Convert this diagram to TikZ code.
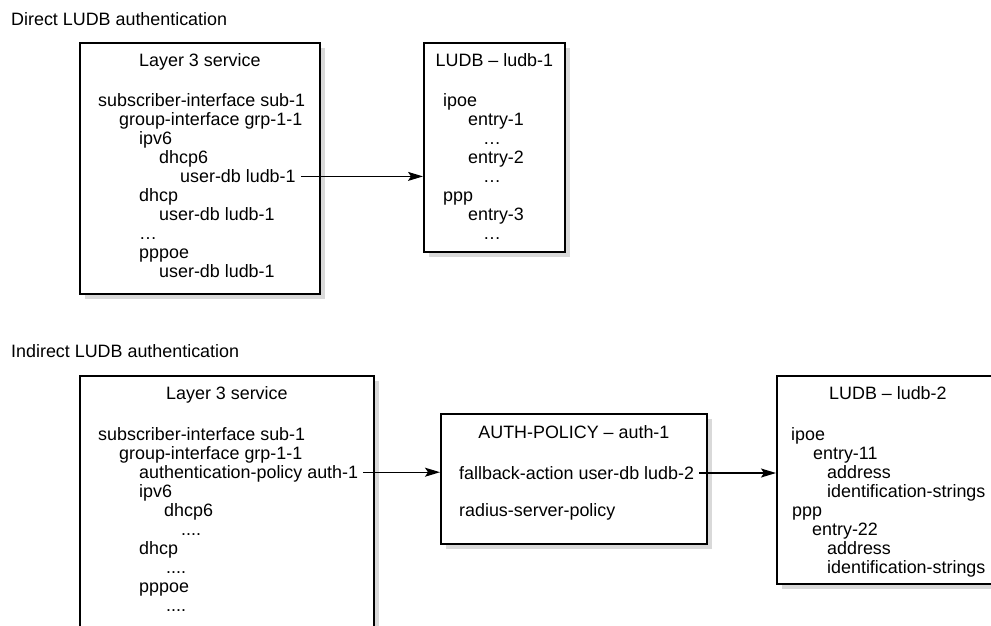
\documentclass[tikz,border=0pt]{standalone}
\usepackage{fontspec}
\setmainfont{Liberation Sans}
\usetikzlibrary{arrows.meta,shadows}

\newcommand\fourdots{....}

\tikzset{
  box/.style={draw,line width=1.8pt,fill=white,anchor=north west,inner sep=0pt,
    drop shadow={shadow xshift=5pt,shadow yshift=-5pt,fill=black!15,opacity=1}},
  txt/.style={anchor=base west,inner sep=0pt,text height=12pt,text depth=0pt},
  ttl/.style={anchor=base,inner sep=0pt},
  hdr/.style={anchor=base west,inner sep=0pt},
  arr/.style={-{Stealth[length=15pt,width=9pt,inset=3pt]},line width=1.2pt,shorten <=5pt},
}

\begin{document}
\begin{tikzpicture}[x=1pt,y=-1pt,font=\fontsize{17.9}{19.1}\selectfont]
  \useasboundingbox (0,0) rectangle (991,625);
  \clip (0,0) rectangle (991,625);

  % direct case
  \node[hdr] (hdra) at (11,25) {Direct LUDB authentication};
  \node[box,minimum width=240pt,minimum height=251pt] (l3a) at (79,42) {};
  \node[box,minimum width=141pt,minimum height=209pt] (ludb1) at (423,42) {};
  \node[ttl] (l3a-t) at ([yshift=-24pt]l3a.north) {Layer 3 service};
  \node[ttl] (ludb1-t) at ([yshift=-24pt]ludb1.north) {LUDB – ludb-1};
  \foreach \x/\t [count=\i] in {98/subscriber-interface sub-1, 119/group-interface grp-1-1,
      139/ipv6, 159/dhcp6, 180/user-db ludb-1, 139/dhcp, 159/user-db ludb-1, 139/…,
      139/pppoe, 159/user-db ludb-1}
    \node[txt] (l3a-\i) at (\x,{106+19.1*(\i-1)}) {\t};
  \foreach \x/\t [count=\i] in {443/ipoe, 468/entry-1, 483/…, 468/entry-2, 483/…,
      443/ppp, 468/entry-3, 483/…}
    \node[txt] (ludb1-\i) at (\x,{106+19.1*(\i-1)}) {\t};
  \draw[arr] (l3a-5.east) -- (l3a-5.east -| ludb1.west);

  % indirect case
  \node[hdr] (hdrb) at (11,357) {Indirect LUDB authentication};
  \node[box,minimum width=294pt,minimum height=290pt] (l3b) at (79,375) {};
  \node[box,minimum width=266pt,minimum height=130pt] (auth) at (440,413) {};
  \node[box,minimum width=222pt,minimum height=208pt] (ludb2) at (776,375) {};
  \node[ttl] (l3b-t) at ([yshift=-24pt]l3b.north) {Layer 3 service};
  \node[ttl] (auth-t) at ([yshift=-25pt]auth.north) {AUTH-POLICY – auth-1};
  \node[ttl] (ludb2-t) at ([yshift=-24pt]ludb2.north) {LUDB – ludb-2};
  \foreach \x/\t [count=\i] in {98/subscriber-interface sub-1, 119/group-interface grp-1-1,
      139/authentication-policy auth-1, 139/ipv6, 164/dhcp6, 181/\fourdots, 139/dhcp,
      166/\fourdots, 139/pppoe, 166/\fourdots}
    \node[txt] (l3b-\i) at (\x,{440+19.1*(\i-1)}) {\t};
  \node[txt] (auth-1) at (459,479) {fallback-action user-db ludb-2};
  \node[txt] (auth-2) at (459,516) {radius-server-policy};
  \foreach \x/\t [count=\i] in {791/ipoe, 813/entry-11, 827/address, 827/identification-strings,
      792/ppp, 812/entry-22, 827/address, 827/identification-strings}
    \node[txt] (ludb2-\i) at (\x,{440+19*(\i-1)}) {\t};
  \draw[arr] (l3b-3.east) -- (l3b-3.east -| auth.west);
  \draw[arr] (auth-1.east) -- (auth-1.east -| ludb2.west);
\end{tikzpicture}
\end{document}
